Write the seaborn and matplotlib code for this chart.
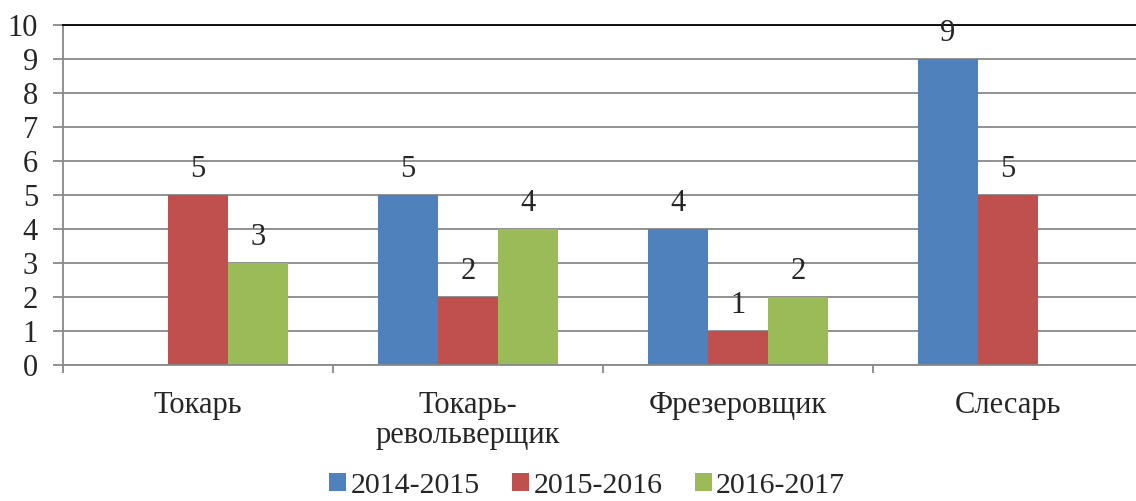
import pandas as pd
import matplotlib.pyplot as plt
import seaborn as sns
from matplotlib.ticker import FixedLocator

# Chart data
professions = ['Токарь', 'Токарь-\nревольверщик', 'Фрезеровщик', 'Слесарь']
years = ['2014-2015', '2015-2016', '2016-2017']
vals_2014 = [0, 5, 4, 9]
vals_2015 = [5, 2, 1, 5]
vals_2016 = [3, 4, 2, 0]
colors = ['#4F81BD', '#C0504D', '#9BBB59']

df = pd.DataFrame({
    'profession': professions * 3,
    'year': [years[0]] * 4 + [years[1]] * 4 + [years[2]] * 4,
    'count': vals_2014 + vals_2015 + vals_2016,
})

sns.set_style('white')
plt.rcParams['font.family'] = ['Liberation Serif', 'DejaVu Serif']

fig = plt.figure(figsize=(11.36, 5.01), dpi=100)
ax = fig.add_axes([63 / 1136, 136 / 501, 1 - 63 / 1136, 340 / 501])

sns.barplot(data=df, x='profession', y='count', hue='year', palette=colors,
            width=0.667, saturation=1, linewidth=0, order=professions,
            hue_order=years, ax=ax)

# Data labels, skip empty bars
for cont in ax.containers:
    labels = [str(int(v)) if v > 0 else '' for v in cont.datavalues]
    ax.bar_label(cont, labels=labels, padding=8, fontsize=22)

ax.set_ylim(0, 10)
ax.set_xlim(-0.5, -0.5 + (1136 - 63) / 270)
ax.set_yticks(range(0, 11))
ax.yaxis.grid(True, color='#888888', linewidth=1.3)
ax.set_axisbelow(True)

ax.spines['right'].set_visible(False)
ax.spines['top'].set_color('black')
ax.spines['top'].set_linewidth(1.3)
ax.spines['left'].set_color('#888888')
ax.spines['bottom'].set_color('#888888')
ax.spines['left'].set_linewidth(1.3)
ax.spines['bottom'].set_linewidth(1.3)

ax.tick_params(axis='y', which='major', left=True, length=7, width=1.3,
               color='#888888', labelsize=22, pad=11)
ax.tick_params(axis='x', which='major', length=0, labelsize=22, pad=19)
ax.xaxis.set_minor_locator(FixedLocator([-0.5, 0.5, 1.5, 2.5]))
ax.tick_params(axis='x', which='minor', bottom=True, length=6, width=1.3,
               color='#888888')
for lab in ax.get_xticklabels():
    lab.set_linespacing(1.05)
    lab.set_va('top')

ax.set_xlabel('')
ax.set_ylabel('')

handles, labels = ax.get_legend_handles_labels()
ax.get_legend().remove()
fig.legend(handles, labels, loc='center', bbox_to_anchor=(0.517, 0.03), ncol=3,
           frameon=False, fontsize=21.5, handlelength=0.55, handleheight=0.55,
           handletextpad=0.15, columnspacing=1.1, borderaxespad=0)

plt.savefig('out.png', dpi=100)
